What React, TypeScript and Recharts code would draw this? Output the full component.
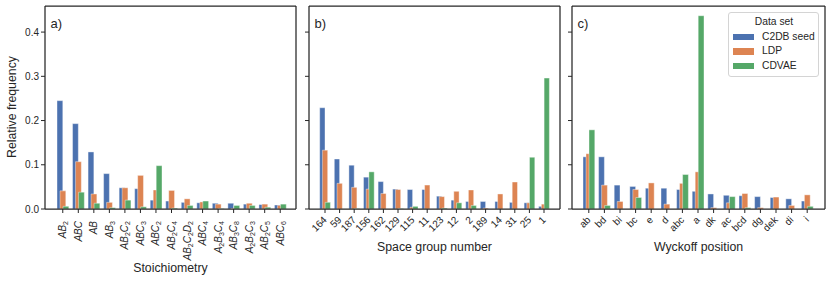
import { Bar, BarChart, CartesianGrid, Legend, XAxis, YAxis } from 'recharts';

const FONT = "'Liberation Sans', Arial, sans-serif";
const INK = '#262626';
const SEED = '#4C72B0';
const LDP = '#DD8452';
const CDVAE = '#55A868';

const yTicks = [0, 0.1, 0.2, 0.3, 0.4];
const seriesNames = ['C2DB seed', 'LDP', 'CDVAE'];
const seriesColors = [SEED, LDP, CDVAE];

// a) stoichiometry
const stoichCategories = ['AB2', 'ABC', 'AB', 'AB3', 'AB2C2', 'ABC3', 'ABC2', 'AB2C4', 'AB2C2D2', 'ABC4', 'A2B3C4', 'AB3C8', 'A2B2C3', 'AB2C5', 'ABC6'];
const stoichSeed = [0.245, 0.193, 0.129, 0.08, 0.048, 0.046, 0.02, 0.018, 0.015, 0.014, 0.013, 0.013, 0.011, 0.01, 0.009];
const stoichLdp = [0.041, 0.107, 0.034, 0.015, 0.048, 0.076, 0.043, 0.042, 0.023, 0.016, 0.011, 0.001, 0.013, 0.011, 0.008];
const stoichCdvae = [0.006, 0.038, 0.013, 0.003, 0.02, 0.005, 0.098, 0.002, 0.008, 0.018, 0.001, 0.008, 0.008, 0.004, 0.011];

// b) space group
const spaceGroups = ['164', '59', '187', '156', '162', '129', '115', '11', '123', '12', '2', '189', '14', '31', '25', '1'];
const spaceSeed = [0.229, 0.113, 0.099, 0.072, 0.062, 0.045, 0.044, 0.044, 0.029, 0.02, 0.017, 0.017, 0.017, 0.015, 0.014, 0.006];
const spaceLdp = [0.133, 0.058, 0.049, 0.045, 0.035, 0.044, 0.004, 0.054, 0.028, 0.04, 0.043, 0.002, 0.034, 0.061, 0.014, 0.011];
const spaceCdvae = [0.015, 0, 0.001, 0.084, 0, 0.001, 0.006, 0, 0.002, 0.014, 0.008, 0, 0, 0, 0.117, 0.296];

// c) wyckoff
const wyckoff = ['ab', 'bd', 'bi', 'bc', 'e', 'd', 'abc', 'a', 'dk', 'ac', 'bcd', 'dg', 'dek', 'di', 'i'];
const wySeed = [0.118, 0.118, 0.054, 0.051, 0.047, 0.047, 0.044, 0.04, 0.034, 0.031, 0.03, 0.028, 0.026, 0.023, 0.018];
const wyLdp = [0.125, 0.054, 0.017, 0.044, 0.059, 0.011, 0.058, 0.084, 0.003, 0.014, 0.035, 0.003, 0.027, 0.008, 0.032];
const wyCdvae = [0.179, 0.008, 0, 0.026, 0, 0, 0.078, 0.437, 0, 0.028, 0.003, 0, 0, 0, 0.006];

const toRows = (cats: string[], a: number[], b: number[], c: number[]) =>
  cats.map((name, i) => ({ name, seed: a[i], ldp: b[i], cdvae: c[i] }));

function FormulaTick({ x, y, payload }: any) {
  const parts = String(payload.value).split(/(\d+)/).filter(Boolean);
  return (
    <g transform={`translate(${x},${y}) rotate(-90)`}>
      <text x={-6} y={3.5} textAnchor="end" fontSize={10} fill={INK} fontFamily={FONT}>
        {parts.map((p, i) => {
          const digit = /\d/.test(p);
          const prevDigit = i > 0 && /\d/.test(parts[i - 1]);
          return digit ? (
            <tspan key={i} dy={2} fontSize={7}>{p}</tspan>
          ) : (
            <tspan key={i} dy={prevDigit ? -2 : 0} fontStyle="italic">{p}</tspan>
          );
        })}
      </text>
    </g>
  );
}

function AngledTick({ x, y, payload }: any) {
  return (
    <g transform={`translate(${x + 2.5},${y + 5.5}) rotate(-45)`}>
      <text x={0} y={0} textAnchor="end" fontSize={10} fill={INK} fontFamily={FONT}>
        {payload.value}
      </text>
    </g>
  );
}

function LegendBox() {
  return (
    <div
      style={{
        border: '1px solid #d4d4d4',
        borderRadius: 3,
        background: 'rgba(255,255,255,0.85)',
        padding: '2px 3px 3px 4px',
        fontFamily: FONT,
        fontSize: 10.3,
        color: INK,
        lineHeight: '14.5px',
        whiteSpace: 'nowrap',
      }}
    >
      <div style={{ textAlign: 'center' }}>Data set</div>
      {seriesNames.map((name, i) => (
        <div key={name} style={{ display: 'flex', alignItems: 'center' }}>
          <span style={{ display: 'inline-block', width: 21, height: 6.5, background: seriesColors[i], marginRight: 8 }} />
          {name}
        </div>
      ))}
    </div>
  );
}

type PanelProps = {
  rows: any[];
  left: number;
  width: number;
  yAxisWidth: number;
  rightMargin: number;
  padding: { left: number; right: number };
  barSize: number;
  barGap: number;
  tick: any;
  title: string;
  titleOffset: number;
  tag: string;
  yLabels?: boolean;
  legend?: boolean;
};

function Panel(p: PanelProps) {
  const plotLeft = p.yAxisWidth;
  return (
    <div style={{ position: 'absolute', left: p.left, top: 0 }}>
      <BarChart
        width={p.width}
        height={282}
        data={p.rows}
        margin={{ top: 6, right: p.rightMargin, bottom: 0, left: 0 }}
        barGap={p.barGap}
        barSize={p.barSize}
      >
        {/* top and right spines */}
        <CartesianGrid
          stroke={INK}
          strokeWidth={1.25}
          horizontalCoordinatesGenerator={({ offset }: any) => [offset.top]}
          verticalCoordinatesGenerator={({ offset }: any) => [offset.left + offset.width]}
        />
        <XAxis
          dataKey="name"
          interval={0}
          height={73}
          padding={p.padding}
          tick={p.tick}
          tickSize={4}
          tickLine={{ stroke: INK, strokeWidth: 1 }}
          axisLine={{ stroke: INK, strokeWidth: 1.25 }}
          label={{ value: p.title, position: 'insideBottom', offset: p.titleOffset, fontSize: 12.3, fill: INK, fontFamily: FONT }}
        />
        <YAxis
          width={p.yAxisWidth}
          domain={[0, 0.459]}
          ticks={yTicks}
          tickSize={4}
          tickFormatter={(v: number) => (p.yLabels ? v.toFixed(1) : '')}
          tick={{ fontSize: 10, fill: INK, fontFamily: FONT }}
          tickLine={{ stroke: INK, strokeWidth: 1 }}
          axisLine={{ stroke: INK, strokeWidth: 1.25 }}
        />
        <Bar dataKey="seed" name={seriesNames[0]} fill={SEED} stroke="#ffffff" strokeWidth={0.4} isAnimationActive={false} />
        <Bar dataKey="ldp" name={seriesNames[1]} fill={LDP} stroke="#ffffff" strokeWidth={0.4} isAnimationActive={false} />
        <Bar dataKey="cdvae" name={seriesNames[2]} fill={CDVAE} stroke="#ffffff" strokeWidth={0.4} isAnimationActive={false} />
        {p.legend && (
          <Legend
            layout="vertical"
            align="center"
            verticalAlign="middle"
            content={<LegendBox />}
            wrapperStyle={{ left: 164, top: 12, width: 91, height: 'auto' }}
          />
        )}
        <text x={plotLeft + 5.5} y={27.5} fontSize={13} fill={INK} fontFamily={FONT}>
          {p.tag}
        </text>
        {p.yLabels && (
          <text
            x={12}
            y={107}
            transform="rotate(-90, 12, 107)"
            textAnchor="middle"
            dominantBaseline="central"
            fontSize={12.3}
            fill={INK}
            fontFamily={FONT}
          >
            Relative frequency
          </text>
        )}
      </BarChart>
    </div>
  );
}

export default function App() {
  return (
    <div style={{ position: 'absolute', left: 0, top: 0, width: 831, height: 282, background: '#fff' }}>
      <Panel
        rows={toRows(stoichCategories, stoichSeed, stoichLdp, stoichCdvae)}
        left={0}
        width={300}
        yAxisWidth={45}
        rightMargin={4}
        padding={{ left: 10, right: 8 }}
        barSize={5.8}
        barGap={-2.8}
        tick={<FormulaTick />}
        title="Stoichiometry"
        titleOffset={10}
        tag="a)"
        yLabels
      />
      <Panel
        rows={toRows(spaceGroups, spaceSeed, spaceLdp, spaceCdvae)}
        left={300}
        width={264}
        yAxisWidth={9}
        rightMargin={4}
        padding={{ left: 8.7, right: 8.7 }}
        barSize={5.3}
        barGap={-2.6}
        tick={<AngledTick />}
        title="Space group number"
        titleOffset={31}
        tag="b)"
      />
      <Panel
        rows={toRows(wyckoff, wySeed, wyLdp, wyCdvae)}
        left={564}
        width={267}
        yAxisWidth={8}
        rightMargin={6}
        padding={{ left: 9, right: 10 }}
        barSize={5.8}
        barGap={-2.8}
        tick={<AngledTick />}
        title="Wyckoff position"
        titleOffset={31}
        tag="c)"
        legend
      />
    </div>
  );
}
